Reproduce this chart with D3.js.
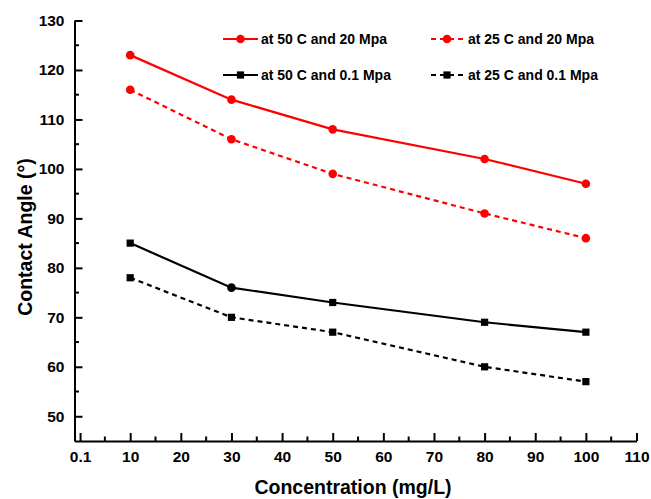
<!DOCTYPE html>
<html>
<head>
<meta charset="utf-8">
<script src="https://cdn.jsdelivr.net/npm/d3@7"></script>
<style>
  html, body { margin: 0; padding: 0; background: #fff; }
  svg { display: block; }
  text { font-family: Arial, "Liberation Sans", sans-serif; font-weight: bold; fill: #000; }
</style>
</head>
<body>
<svg id="chart" width="651" height="499"></svg>
<script>
// ---- data ----
const concentrations = [10, 30, 50, 80, 100];
const hot20 = [123, 114, 108, 102, 97];     // at 50 C and 20 Mpa
const cold20 = [116, 106, 99, 91, 86];      // at 25 C and 20 Mpa
const hot01 = [85, 76, 73, 69, 67];         // at 50 C and 0.1 Mpa
const cold01 = [78, 70, 67, 60, 57];        // at 25 C and 0.1 Mpa
const hot01Markers = ["square", "circle", "square", "square", "square"];
const seriesNames = ["at 50 C and 20 Mpa", "at 25 C and 20 Mpa", "at 50 C and 0.1 Mpa", "at 25 C and 0.1 Mpa"];
const xTickValues = [0.1, 10, 20, 30, 40, 50, 60, 70, 80, 90, 100, 110];
const xTickLabels = ["0.1", "10", "20", "30", "40", "50", "60", "70", "80", "90", "100", "110"];
const xMinorTicks = [5, 15, 25, 35, 45, 55, 65, 75, 85, 95, 105];
const yTickValues = [50, 60, 70, 80, 90, 100, 110, 120, 130];
const yMinorTicks = [55, 65, 75, 85, 95, 105, 115, 125];
const xTitle = "Concentration (mg/L)";
const yTitle = "Contact Angle (°)";

const series = [
  { name: seriesNames[0], values: hot20, color: "#ff0000", dash: null, markers: concentrations.map(() => "circle") },
  { name: seriesNames[1], values: cold20, color: "#ff0000", dash: "5,4", markers: concentrations.map(() => "circle") },
  { name: seriesNames[2], values: hot01, color: "#000000", dash: null, markers: hot01Markers },
  { name: seriesNames[3], values: cold01, color: "#000000", dash: "5,4", markers: concentrations.map(() => "square") }
];

// ---- layout ----
const svg = d3.select("#chart");
const x = d3.scaleLinear().domain([-1, 110]).range([74.5, 636.5]);
const y = d3.scaleLinear().domain([45, 130]).range([441, 20.5]);

// axes
const xAxis = d3.axisBottom(x).tickValues(xTickValues)
  .tickFormat((d, i) => xTickLabels[i]).tickSizeInner(-8).tickSizeOuter(0).tickPadding(10);
const gx = svg.append("g").attr("transform", `translate(0,${y(45)})`).call(xAxis);
gx.append("g").selectAll("line").data(xMinorTicks).join("line")
  .attr("x1", d => x(d)).attr("x2", d => x(d)).attr("y1", 0).attr("y2", -4.5)
  .attr("stroke", "#000").attr("stroke-width", 2);

const yAxis = d3.axisLeft(y).tickValues(yTickValues)
  .tickSizeInner(-8).tickSizeOuter(0).tickPadding(10);
const gy = svg.append("g").attr("transform", `translate(${x(-1)},0)`).call(yAxis);
gy.append("g").selectAll("line").data(yMinorTicks).join("line")
  .attr("y1", d => y(d)).attr("y2", d => y(d)).attr("x1", 0).attr("x2", 4.5)
  .attr("stroke", "#000").attr("stroke-width", 2);

[gx, gy].forEach(g => {
  g.select(".domain").attr("stroke", "#000").attr("stroke-width", 2);
  g.selectAll(".tick line").attr("stroke", "#000").attr("stroke-width", 2);
  g.selectAll(".tick text").attr("font-size", 15.5).attr("font-weight", "bold")
    .attr("font-family", "Arial, 'Liberation Sans', sans-serif").attr("fill", "#000");
});

// titles
svg.append("text").attr("x", 353).attr("y", 494).attr("text-anchor", "middle")
  .attr("font-size", 19.5).text(xTitle);
svg.append("text").attr("transform", "translate(32,237) rotate(-90)").attr("text-anchor", "middle")
  .attr("font-size", 19.5).text(yTitle);

// marker helper
function drawMarker(g, shape, cx, cy, color) {
  if (shape === "circle") {
    g.append("circle").attr("cx", cx).attr("cy", cy).attr("r", 4.3).attr("fill", color);
  } else {
    g.append("rect").attr("x", cx - 3.6).attr("y", cy - 3.6).attr("width", 7.2).attr("height", 7.2).attr("fill", color);
  }
}

// lines
const line = d3.line().x(d => x(d[0])).y(d => y(d[1]));
const plot = svg.append("g");
series.forEach(s => {
  const pts = concentrations.map((c, i) => [c, s.values[i]]);
  plot.append("path").attr("d", line(pts)).attr("fill", "none")
    .attr("stroke", s.color).attr("stroke-width", 2.2)
    .attr("stroke-dasharray", s.dash);
  const mg = plot.append("g");
  pts.forEach((p, i) => drawMarker(mg, s.markers[i], x(p[0]), y(p[1]), s.color));
});

// legend
const legendPos = [
  { lx1: 223, lx2: 258, mx: 240.5, tx: 261, y: 39 },
  { lx1: 431, lx2: 463, mx: 447, tx: 468, y: 39 },
  { lx1: 223, lx2: 258, mx: 240.5, tx: 261, y: 75 },
  { lx1: 431, lx2: 463, mx: 447, tx: 468, y: 75 }
];
const legend = svg.append("g");
series.forEach((s, i) => {
  const p = legendPos[i];
  legend.append("line").attr("x1", p.lx1).attr("x2", p.lx2).attr("y1", p.y).attr("y2", p.y)
    .attr("stroke", s.color).attr("stroke-width", 2.2).attr("stroke-dasharray", s.dash);
  drawMarker(legend, s.markers[0], p.mx, p.y, s.color);
  legend.append("text").attr("x", p.tx).attr("y", p.y).attr("dy", "0.36em")
    .attr("font-size", 14).text(s.name);
});
</script>
</body>
</html>
